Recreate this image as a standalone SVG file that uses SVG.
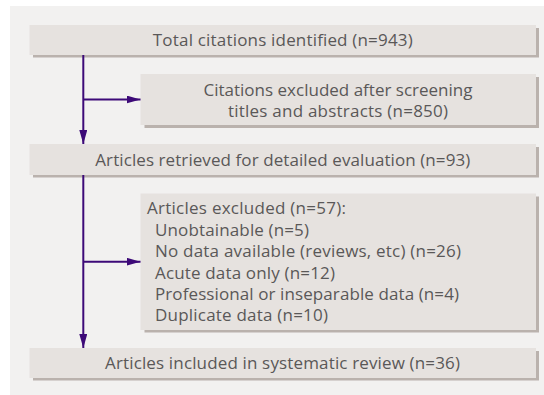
<svg xmlns="http://www.w3.org/2000/svg" width="544" height="395" viewBox="0 0 544 395">
<defs>
<style>
.box{fill:#e6e2df}
.shadow{fill:#bab2ad}
.t{font-family:"Open Sans","Noto Sans",sans-serif;font-size:17px;fill:#5a5858}
.c{text-anchor:middle}
.ln{stroke:#3d0a78;stroke-width:2;fill:none}
</style>
<marker id="ah" viewBox="0 0 14 8" refX="14" refY="4" markerWidth="14" markerHeight="8" markerUnits="userSpaceOnUse" orient="auto">
<path d="M0,0 L14,4 L0,8 z" fill="#3d0a78"/>
</marker>
</defs>
<rect x="0" y="0" width="544" height="395" fill="#ffffff"/>
<rect x="10" y="6" width="534" height="389" fill="#f2f1f0"/>
<g id="n1">
<rect class="shadow" x="33" y="28" width="506" height="29.5"/>
<rect class="box" x="29.5" y="25" width="506.5" height="30"/>
<text class="t c" x="282.8" y="46" textLength="260">Total citations identified (n=943)</text>
</g>
<g id="n2">
<rect class="shadow" x="144.5" y="77" width="394.5" height="51"/>
<rect class="box" x="140.5" y="74" width="395.5" height="51"/>
<text class="t c" x="338" y="96" textLength="269">Citations excluded after screening</text>
<text class="t c" x="338" y="117" textLength="220">titles and abstracts (n=850)</text>
</g>
<g id="n3">
<rect class="shadow" x="33" y="147" width="506" height="30.5"/>
<rect class="box" x="29.5" y="144" width="506.5" height="31"/>
<text class="t c" x="282.8" y="166" textLength="375">Articles retrieved for detailed evaluation (n=93)</text>
</g>
<g id="n4">
<rect class="shadow" x="144.5" y="196.5" width="394.5" height="136"/>
<rect class="box" x="140.5" y="193.5" width="395.5" height="136.5"/>
<text class="t" x="147" y="214" textLength="199">Articles excluded (n=57):</text>
<text class="t" x="155" y="235.5" textLength="154">Unobtainable (n=5)</text>
<text class="t" x="155" y="257" textLength="306">No data available (reviews, etc) (n=26)</text>
<text class="t" x="155" y="278.5" textLength="180">Acute data only (n=12)</text>
<text class="t" x="155" y="300" textLength="304">Professional or inseparable data (n=4)</text>
<text class="t" x="155" y="321" textLength="173">Duplicate data (n=10)</text>
</g>
<g id="n5">
<rect class="shadow" x="33" y="351" width="506" height="29.5"/>
<rect class="box" x="29.5" y="348" width="506.5" height="30"/>
<text class="t c" x="282.5" y="369" textLength="355">Articles included in systematic review (n=36)</text>
</g>
<g id="connectors">
<line class="ln" x1="83.3" y1="55" x2="83.3" y2="144" marker-end="url(#ah)"/>
<line class="ln" x1="83.3" y1="99.5" x2="140.5" y2="99.5" marker-end="url(#ah)"/>
<line class="ln" x1="83.3" y1="175" x2="83.3" y2="348" marker-end="url(#ah)"/>
<line class="ln" x1="83.3" y1="261.7" x2="140.5" y2="261.7" marker-end="url(#ah)"/>
</g>
</svg>
